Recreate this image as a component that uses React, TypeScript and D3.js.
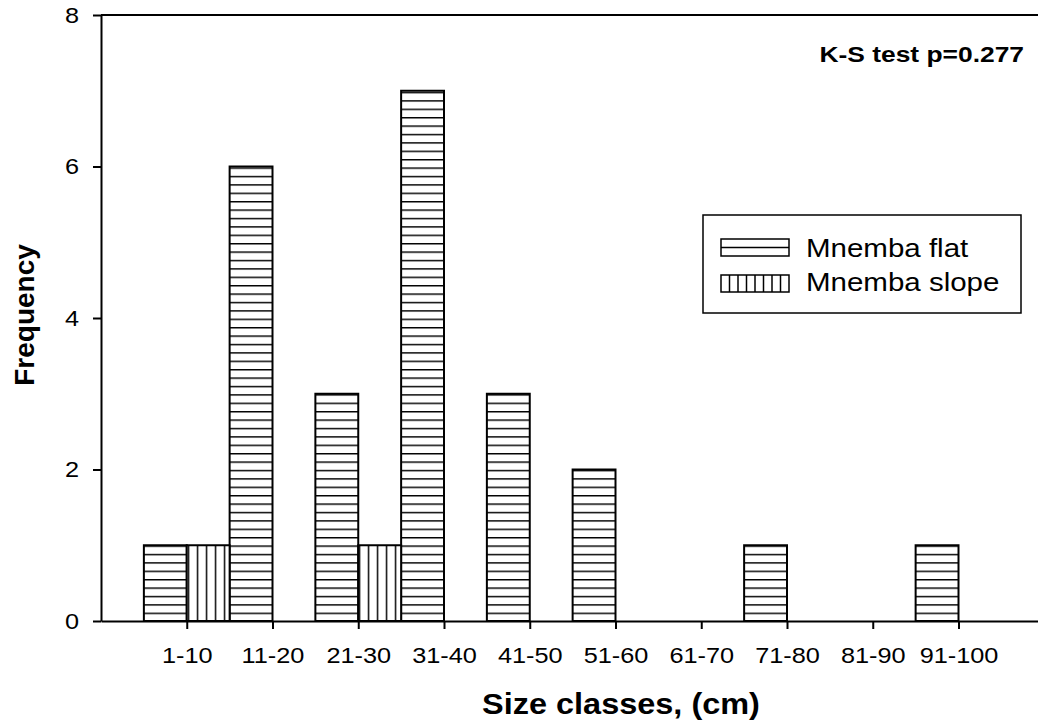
import React, { useRef, useEffect } from 'react';
import * as d3 from 'd3';

const categories = ['1-10', '11-20', '21-30', '31-40', '41-50', '51-60', '61-70', '71-80', '81-90', '91-100'];
const flatValues = [1, 6, 3, 7, 3, 2, 0, 1, 0, 1];
const slopeValues = [1, 0, 1, 0, 0, 0, 0, 0, 0, 0];
const yTicks = [0, 2, 4, 6, 8];
const seriesNames = ['Mnemba flat', 'Mnemba slope'];

export default function App() {
  const ref = useRef<SVGSVGElement>(null);

  useEffect(() => {
    const svg = d3.select(ref.current);
    svg.selectAll('*').remove();

    const left = 101, top = 15, bottom = 621;
    // categories sit at 1..10 on a 0..11 axis, the right end runs off the page
    const x = d3.scaleLinear().domain([0, 11]).range([left, left + 11 * 85.75]);
    const y = d3.scaleLinear().domain([0, 8]).range([bottom, top]);
    const half = (x(1) - x(0)) / 2;

    const defs = svg.append('defs');
    const ph = defs.append('pattern').attr('id', 'hatchH')
      .attr('patternUnits', 'userSpaceOnUse').attr('width', 8).attr('height', 8.4)
      .attr('y', bottom);
    ph.append('rect').attr('width', 8).attr('height', 8.4).attr('fill', '#fff');
    ph.append('line').attr('x1', 0).attr('x2', 8).attr('y1', 0.7).attr('y2', 0.7)
      .attr('stroke', '#000').attr('stroke-width', 1.5);
    const pv = defs.append('pattern').attr('id', 'hatchV')
      .attr('patternUnits', 'userSpaceOnUse').attr('width', 9).attr('height', 8)
      .attr('x', x(1) + 1);
    pv.append('rect').attr('width', 9).attr('height', 8).attr('fill', '#fff');
    pv.append('line').attr('x1', 0.7).attr('x2', 0.7).attr('y1', 0).attr('y2', 8)
      .attr('stroke', '#000').attr('stroke-width', 1.5);

    const font = 'Arial, "Liberation Sans", Helvetica, sans-serif';

    // the original text is a bit wider than Liberation Sans, so stretch it horizontally
    const stretch = (sel: any, k: number) => {
      sel.each(function (this: SVGTextElement) {
        const t = d3.select(this);
        const tx = +(t.attr('x') || 0);
        t.attr('x', tx / k).attr('transform', `scale(${k},1)`);
      });
    };

    const bars = [
      { values: flatValues, offset: -half, fill: 'url(#hatchH)' },
      { values: slopeValues, offset: 0, fill: 'url(#hatchV)' },
    ];
    const g = svg.append('g');
    bars.forEach(s => {
      const data = s.values.map((v, i) => ({ v, i })).filter(d => d.v > 0);
      g.selectAll(null).data(data).enter().append('rect')
        .attr('x', d => x(d.i + 1) + s.offset)
        .attr('y', d => y(d.v))
        .attr('width', half)
        .attr('height', d => y(0) - y(d.v))
        .attr('fill', s.fill)
        .attr('stroke', '#000').attr('stroke-width', 2);
    });

    svg.append('line').attr('x1', x(0)).attr('x2', x(11)).attr('y1', top).attr('y2', top)
      .attr('stroke', '#000').attr('stroke-width', 2);

    const yAxis = svg.append('g').attr('transform', `translate(${left},0)`)
      .call(d3.axisLeft(y).tickValues(yTicks).tickSize(8).tickSizeOuter(0).tickPadding(14));
    yAxis.select('.domain').attr('stroke-width', 2);
    yAxis.selectAll('.tick line').attr('stroke-width', 2);
    const yt = yAxis.selectAll('text').attr('font-family', font).attr('font-size', 22).attr('fill', '#000');
    stretch(yt, 1.15);

    const xAxis = svg.append('g').attr('transform', `translate(0,${bottom})`)
      .call(d3.axisBottom(x).tickValues(d3.range(1, 11)).tickFormat((d, i) => categories[i])
        .tickSize(8).tickSizeOuter(0).tickPadding(18));
    xAxis.select('.domain').attr('stroke-width', 2);
    xAxis.selectAll('.tick line').attr('stroke-width', 2);
    const xt = xAxis.selectAll('text').attr('font-family', font).attr('font-size', 22).attr('fill', '#000');
    stretch(xt, 1.15);

    const xTitle = svg.append('text').attr('x', 621).attr('y', 714)
      .attr('text-anchor', 'middle').attr('font-family', font).attr('font-weight', 'bold')
      .attr('font-size', 29).text('Size classes, (cm)');
    stretch(xTitle, 1.12);
    svg.append('text').attr('transform', 'translate(34,315) rotate(-90)')
      .attr('text-anchor', 'middle').attr('font-family', font).attr('font-weight', 'bold')
      .attr('font-size', 28).text('Frequency');

    const ks = svg.append('text').attr('x', 1024).attr('y', 62).attr('text-anchor', 'end')
      .attr('font-family', font).attr('font-weight', 'bold').attr('font-size', 22)
      .text('K-S test p=0.277');
    stretch(ks, 1.2);

    // legend
    const lg = svg.append('g').attr('transform', 'translate(703,215)');
    lg.append('rect').attr('width', 318).attr('height', 98).attr('fill', '#fff')
      .attr('stroke', '#000').attr('stroke-width', 1.5);
    const rows = [
      { name: seriesNames[0], kind: 'flat', top: 24, base: 42 },
      { name: seriesNames[1], kind: 'slope', top: 60, base: 76 },
    ];
    rows.forEach(r => {
      const sw = lg.append('g').attr('transform', `translate(18,${r.top})`);
      sw.append('rect').attr('width', 68).attr('height', 17).attr('fill', '#fff')
        .attr('stroke', '#000').attr('stroke-width', 1.5);
      if (r.kind === 'flat') {
        sw.append('line').attr('x1', 0).attr('x2', 68).attr('y1', 8.5).attr('y2', 8.5)
          .attr('stroke', '#000').attr('stroke-width', 1.5);
      } else {
        d3.range(1, 8).forEach(j => {
          sw.append('line').attr('x1', j * 8.5).attr('x2', j * 8.5).attr('y1', 0).attr('y2', 17)
            .attr('stroke', '#000').attr('stroke-width', 1.5);
        });
      }
      const t = lg.append('text').attr('x', 103).attr('y', r.base)
        .attr('font-family', font).attr('font-size', 25).text(r.name);
      stretch(t, 1.18);
    });
  }, []);

  return (
    <svg ref={ref} width={1038} height={726}
      style={{ position: 'absolute', left: 0, top: 0, background: '#fff' }} />
  );
}
